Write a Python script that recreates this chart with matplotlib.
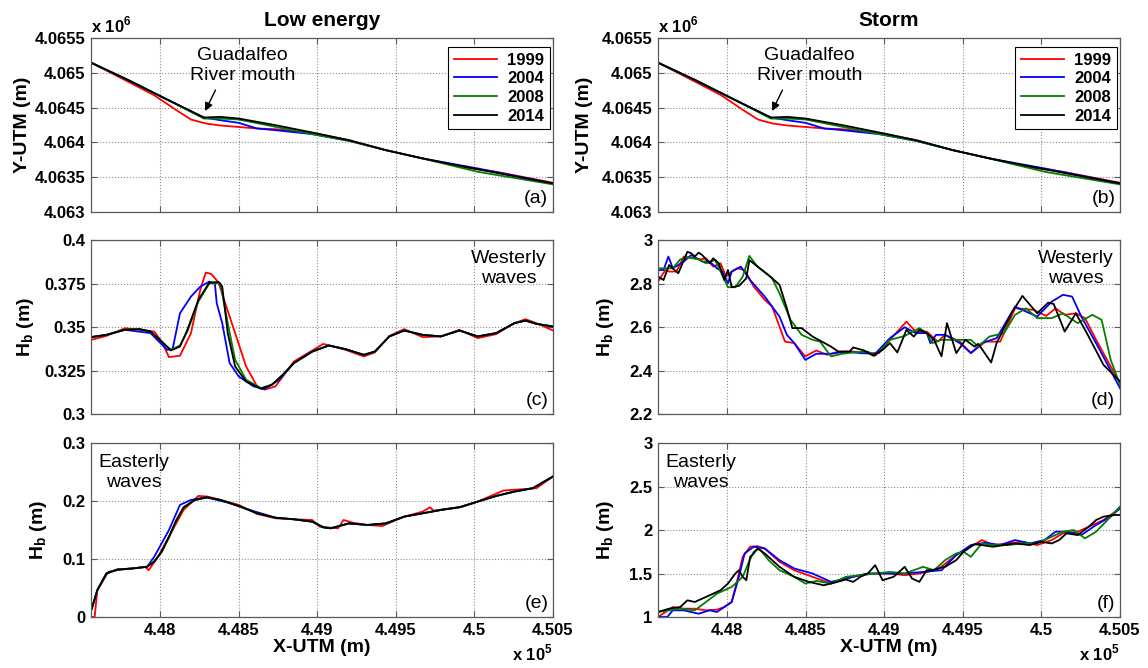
import matplotlib
matplotlib.use('Agg')
import matplotlib.pyplot as plt
from matplotlib.ticker import FuncFormatter

plt.rcParams['font.family'] = ['Liberation Sans', 'DejaVu Sans']
plt.rcParams['mathtext.fontset'] = 'custom'
plt.rcParams['mathtext.rm'] = 'Liberation Sans'
plt.rcParams['mathtext.bf'] = 'Liberation Sans:bold'

years = ['1999', '2004', '2008', '2014']
colors = ['#ff0000', '#0000ff', '#008000', '#000000']

# ---- shoreline position (a), (b) ----
shore_x_1999 = [447560, 447799, 447962, 448103, 448196, 448290, 448383, 448617, 448734,
                448968, 449202, 449436, 449670, 449904, 450138, 450500]
shore_y_1999 = [4065146, 4064869, 4064678, 4064463, 4064329, 4064272, 4064243, 4064200, 4064190,
                4064138, 4064032, 4063889, 4063770, 4063650, 4063578, 4063421]
shore_x_2004 = [447560, 447799, 448032, 448278, 448383, 448500, 448617, 448734, 448968, 449202,
                449436, 449670, 450021, 450500]
shore_y_2004 = [4065146, 4064893, 4064630, 4064358, 4064319, 4064281, 4064200, 4064176, 4064119,
                4064023, 4063889, 4063770, 4063626, 4063411]
shore_x_2008 = [447560, 447799, 448032, 448278, 448383, 448500, 448734, 448968, 449202, 449436,
                449670, 450021, 450500]
shore_y_2008 = [4065146, 4064893, 4064630, 4064343, 4064343, 4064329, 4064224, 4064119, 4064023,
                4063889, 4063770, 4063578, 4063397]
shore_x_2014 = [447560, 447799, 448032, 448278, 448383, 448500, 448734, 448968, 449202, 449436,
                449670, 449904, 450138, 450500]
shore_y_2014 = [4065146, 4064893, 4064630, 4064358, 4064367, 4064343, 4064248, 4064142, 4064032,
                4063889, 4063770, 4063665, 4063564, 4063411]

# ---- low energy, westerly waves (c) ----
lw_w_x_1999 = [447560, 447658, 447775, 447869, 447962, 448009, 448056, 448126, 448196, 448255,
               448290, 448325, 448372, 448407, 448477, 448547, 448617, 448664, 448734, 448851,
               448968, 449038, 449179, 449296, 449366, 449459, 449553, 449670, 449787, 449904,
               450021, 450138, 450254, 450325, 450395, 450500]
lw_w_h_1999 = [0.3426, 0.3449, 0.3493, 0.3484, 0.3474, 0.3417, 0.3327, 0.3335, 0.3465, 0.3713,
               0.3813, 0.3805, 0.3755, 0.3656, 0.3465, 0.3273, 0.3159, 0.3140, 0.3159, 0.3302,
               0.3365, 0.3403, 0.3369, 0.3331, 0.3354, 0.3449, 0.3488, 0.3442, 0.3446, 0.3484,
               0.3436, 0.3459, 0.3522, 0.3545, 0.3522, 0.3480]
lw_w_x_2004 = [447560, 447658, 447775, 447939, 448044, 448079, 448126, 448196, 448255, 448313,
               448348, 448360, 448395, 448442, 448500, 448594, 448664, 448758, 448851, 448968,
               449073, 449179, 449296, 449366, 449459, 449553, 449670, 449787, 449904, 450021,
               450138, 450254, 450325, 450395, 450500]
lw_w_h_2004 = [0.3442, 0.3455, 0.3484, 0.3465, 0.3369, 0.3373, 0.3579, 0.3675, 0.3732, 0.3761,
               0.3751, 0.3637, 0.3522, 0.3293, 0.3216, 0.3159, 0.3143, 0.3197, 0.3293, 0.3359,
               0.3394, 0.3373, 0.3340, 0.3359, 0.3446, 0.3480, 0.3455, 0.3446, 0.3480, 0.3446,
               0.3465, 0.3522, 0.3537, 0.3518, 0.3503]
lw_w_x_2008 = [447560, 447658, 447775, 447869, 447939, 448009, 448068, 448126, 448173, 448243,
               448313, 448383, 448430, 448477, 448547, 448641, 448711, 448781, 448851, 448968,
               449073, 449179, 449296, 449366, 449459, 449553, 449670, 449787, 449904, 450021,
               450138, 450254, 450325, 450395, 450500]
lw_w_h_2008 = [0.3442, 0.3455, 0.3484, 0.3488, 0.3474, 0.3417, 0.3369, 0.3394, 0.3474, 0.3646,
               0.3751, 0.3751, 0.3522, 0.3312, 0.3197, 0.3149, 0.3168, 0.3226, 0.3293, 0.3359,
               0.3394, 0.3373, 0.3340, 0.3359, 0.3446, 0.3480, 0.3455, 0.3446, 0.3480, 0.3446,
               0.3465, 0.3522, 0.3537, 0.3518, 0.3503]
lw_w_x_2014 = [447560, 447658, 447775, 447869, 447939, 448009, 448068, 448126, 448173, 448243,
               448313, 448372, 448395, 448430, 448477, 448547, 448641, 448711, 448781, 448851,
               448968, 449073, 449179, 449296, 449366, 449459, 449553, 449670, 449787, 449904,
               450021, 450138, 450254, 450325, 450395, 450500]
lw_w_h_2014 = [0.3442, 0.3455, 0.3484, 0.3488, 0.3474, 0.3417, 0.3365, 0.3388, 0.3484, 0.3656,
               0.3755, 0.3759, 0.3732, 0.3465, 0.3273, 0.3187, 0.3145, 0.3168, 0.3226, 0.3293,
               0.3359, 0.3394, 0.3373, 0.3340, 0.3359, 0.3446, 0.3480, 0.3455, 0.3446, 0.3480,
               0.3446, 0.3465, 0.3522, 0.3537, 0.3518, 0.3503]

# ---- low energy, easterly waves (e) ----
lw_e_x_1999 = [447560, 447583, 447600, 447670, 447728, 447822, 447904, 447927, 447986, 448021,
               448079, 448149, 448243, 448301, 448383, 448500, 448617, 448734, 448851, 448968,
               449015, 449132, 449167, 449225, 449319, 449413, 449553, 449670, 449717, 449740,
               449927, 450021, 450184, 450395, 450500]
lw_e_h_1999 = [0.0, 0.0, 0.0462, 0.0779, 0.0808, 0.0837, 0.0865, 0.0808, 0.1038, 0.1212,
               0.1500, 0.1846, 0.2088, 0.2077, 0.2019, 0.1933, 0.1777, 0.1702, 0.1685, 0.1673,
               0.1558, 0.1529, 0.1673, 0.1627, 0.1587, 0.1569, 0.1731, 0.1817, 0.1892, 0.1835,
               0.1904, 0.1990, 0.2181, 0.2221, 0.2423]
lw_e_x_2004 = [447565, 447600, 447658, 447728, 447822, 447916, 447962, 448009, 448056, 448126,
               448196, 448290, 448430, 448570, 448734, 448851, 448968, 449038, 449085, 449202,
               449319, 449436, 449553, 449670, 449787, 449904, 450021, 450138, 450254, 450371,
               450500]
lw_e_h_2004 = [0.0144, 0.0462, 0.0750, 0.0819, 0.0837, 0.0865, 0.1038, 0.1269, 0.1500, 0.1933,
               0.2019, 0.2065, 0.1973, 0.1846, 0.1713, 0.1685, 0.1644, 0.1546, 0.1529, 0.1615,
               0.1587, 0.1615, 0.1731, 0.1788, 0.1846, 0.1892, 0.1990, 0.2088, 0.2163, 0.2221,
               0.2423]
lw_e_x_2008 = [447565, 447600, 447658, 447728, 447822, 447916, 447962, 448009, 448056, 448103,
               448149, 448220, 448301, 448383, 448500, 448617, 448734, 448851, 448968, 449038,
               449085, 449202, 449319, 449436, 449553, 449670, 449787, 449904, 450021, 450138,
               450254, 450371, 450500]
lw_e_h_2008 = [0.0150, 0.0470, 0.0755, 0.0822, 0.0837, 0.0870, 0.0960, 0.1115, 0.1370, 0.1660,
               0.1885, 0.2015, 0.2060, 0.2019, 0.1920, 0.1790, 0.1710, 0.1685, 0.1644, 0.1550,
               0.1532, 0.1612, 0.1587, 0.1612, 0.1731, 0.1790, 0.1846, 0.1892, 0.1990, 0.2085,
               0.2160, 0.2221, 0.2420]
lw_e_x_2014 = [447565, 447600, 447658, 447728, 447822, 447916, 447962, 448009, 448056, 448103,
               448149, 448220, 448301, 448383, 448500, 448617, 448734, 448851, 448968, 449038,
               449085, 449202, 449319, 449436, 449553, 449670, 449787, 449904, 450021, 450138,
               450254, 450371, 450500]
lw_e_h_2014 = [0.0144, 0.0462, 0.0750, 0.0819, 0.0837, 0.0865, 0.0952, 0.1125, 0.1385, 0.1673,
               0.1892, 0.2019, 0.2065, 0.2019, 0.1915, 0.1788, 0.1713, 0.1685, 0.1644, 0.1546,
               0.1529, 0.1615, 0.1587, 0.1615, 0.1731, 0.1788, 0.1846, 0.1892, 0.1990, 0.2088,
               0.2163, 0.2221, 0.2423]

# ---- storm, westerly waves (d) ----
st_w_x_1999 = [447560, 447607, 447630, 447677, 447724, 447794, 447829, 447865, 447911, 447958,
               447993, 448029, 448064, 448111, 448169, 448239, 448286, 448333, 448368, 448427,
               448497, 448567, 448638, 448708, 448802, 448895, 448966, 449036, 449083, 449141,
               449200, 449270, 449340, 449387, 449481, 449551, 449645, 449738, 449832, 449949,
               450031, 450090, 450148, 450219, 450277, 450348, 450441, 450500]
st_w_h_1999 = [2.809, 2.862, 2.855, 2.855, 2.924, 2.916, 2.911, 2.916, 2.878, 2.893,
               2.832, 2.855, 2.870, 2.862, 2.786, 2.725, 2.694, 2.602, 2.533, 2.526,
               2.465, 2.492, 2.472, 2.487, 2.487, 2.480, 2.480, 2.541, 2.579, 2.625,
               2.579, 2.579, 2.533, 2.564, 2.533, 2.480, 2.533, 2.533, 2.686, 2.679,
               2.651, 2.686, 2.656, 2.663, 2.641, 2.541, 2.419, 2.342]
st_w_x_2004 = [447560, 447595, 447626, 447654, 447724, 447771, 447841, 447888, 447935, 447970,
               448005, 448029, 448087, 448146, 448239, 448333, 448380, 448427, 448497, 448567,
               448661, 448755, 448848, 448942, 449036, 449130, 449200, 449270, 449293, 449329,
               449387, 449481, 449551, 449621, 449715, 449832, 449973, 450066, 450137, 450195,
               450254, 450371, 450500]
st_w_h_2004 = [2.862, 2.862, 2.924, 2.870, 2.901, 2.931, 2.901, 2.901, 2.870, 2.855,
               2.801, 2.855, 2.878, 2.816, 2.740, 2.648, 2.564, 2.526, 2.449, 2.477,
               2.477, 2.487, 2.480, 2.477, 2.549, 2.599, 2.572, 2.572, 2.526, 2.564,
               2.564, 2.526, 2.480, 2.526, 2.549, 2.694, 2.648, 2.717, 2.748, 2.740,
               2.648, 2.495, 2.319]
st_w_x_2008 = [447560, 447595, 447654, 447701, 447747, 447818, 447865, 447923, 448005, 448052,
               448099, 448141, 448193, 448286, 448333, 448403, 448474, 448544, 448591, 448661,
               448731, 448802, 448895, 448942, 449036, 449130, 449223, 449270, 449305, 449364,
               449411, 449481, 449551, 449598, 449668, 449762, 449832, 449902, 449973, 450066,
               450137, 450231, 450324, 450383, 450441, 450500]
st_w_h_2008 = [2.870, 2.870, 2.870, 2.911, 2.920, 2.911, 2.893, 2.908, 2.783, 2.783,
               2.832, 2.927, 2.878, 2.824, 2.755, 2.633, 2.564, 2.541, 2.533, 2.465,
               2.477, 2.483, 2.487, 2.468, 2.541, 2.559, 2.595, 2.572, 2.526, 2.541,
               2.541, 2.541, 2.541, 2.510, 2.556, 2.572, 2.656, 2.686, 2.641, 2.641,
               2.663, 2.618, 2.656, 2.633, 2.449, 2.335]
st_w_x_2014 = [447560, 447595, 447630, 447689, 447747, 447771, 447794, 447818, 447841, 447888,
               447911, 447947, 447982, 448005, 448029, 448075, 448122, 448141, 448193, 448263,
               448333, 448380, 448415, 448474, 448544, 448661, 448708, 448778, 448802, 448872,
               448930, 448989, 449036, 449083, 449141, 449188, 449223, 449270, 449317, 449364,
               449399, 449458, 449516, 449574, 449598, 449680, 449715, 449809, 449879, 449973,
               450043, 450078, 450148, 450219, 450289, 450395, 450500]
st_w_h_2014 = [2.832, 2.816, 2.885, 2.847, 2.946, 2.939, 2.924, 2.942, 2.931, 2.893,
               2.916, 2.893, 2.816, 2.862, 2.783, 2.789, 2.824, 2.908, 2.878, 2.839,
               2.794, 2.686, 2.595, 2.595, 2.556, 2.510, 2.487, 2.487, 2.506, 2.492,
               2.468, 2.495, 2.526, 2.483, 2.587, 2.556, 2.587, 2.572, 2.541, 2.465,
               2.618, 2.480, 2.541, 2.510, 2.523, 2.437, 2.526, 2.663, 2.743, 2.663,
               2.712, 2.706, 2.579, 2.663, 2.572, 2.426, 2.350]

# ---- storm, easterly waves (f) ----
st_e_x_1999 = [447560, 447607, 447654, 447724, 447794, 447865, 447935, 447982, 448029, 448064,
               448099, 448146, 448193, 448239, 448333, 448427, 448544, 448661, 448802, 448895,
               449036, 449130, 449223, 449340, 449458, 449551, 449621, 449692, 449785, 449879,
               449973, 450066, 450137, 450231, 450301, 450395, 450500]
st_e_h_1999 = [1.0, 1.058, 1.115, 1.096, 1.096, 1.077, 1.085, 1.115, 1.173, 1.423,
               1.692, 1.808, 1.815, 1.788, 1.635, 1.538, 1.462, 1.385, 1.462, 1.5,
               1.5, 1.481, 1.5, 1.546, 1.712, 1.808, 1.885, 1.827, 1.846, 1.865,
               1.827, 1.885, 1.962, 1.981, 2.038, 2.115, 2.250]
st_e_x_2004 = [447560, 447619, 447654, 447724, 447818, 447888, 447935, 447982, 448029, 448075,
               448111, 448169, 448239, 448333, 448427, 448544, 448661, 448802, 448895, 449036,
               449130, 449247, 449364, 449458, 449551, 449645, 449738, 449832, 449926, 450020,
               450090, 450160, 450254, 450348, 450441, 450500]
st_e_h_2004 = [1.0, 1.0, 1.077, 1.077, 1.038, 1.077, 1.058, 1.115, 1.173, 1.462,
               1.731, 1.808, 1.788, 1.654, 1.558, 1.5, 1.404, 1.462, 1.5, 1.5,
               1.5, 1.519, 1.538, 1.712, 1.827, 1.854, 1.827, 1.885, 1.846, 1.885,
               1.981, 1.981, 1.942, 2.058, 2.154, 2.250]
st_e_x_2008 = [447560, 447630, 447701, 447794, 447865, 447935, 447982, 448029, 448099, 448134,
               448169, 448204, 448263, 448333, 448427, 448497, 448567, 448661, 448755, 448848,
               448942, 449036, 449130, 449247, 449317, 449387, 449458, 449504, 449551, 449621,
               449692, 449785, 449879, 449973, 450066, 450137, 450207, 450277, 450348, 450441,
               450500]
st_e_h_2008 = [1.058, 1.077, 1.096, 1.077, 1.173, 1.269, 1.308, 1.346, 1.462, 1.615,
               1.75, 1.788, 1.654, 1.538, 1.462, 1.385, 1.415, 1.385, 1.462, 1.481,
               1.5, 1.519, 1.5, 1.577, 1.538, 1.654, 1.731, 1.75, 1.692, 1.846,
               1.827, 1.827, 1.846, 1.846, 1.923, 1.981, 2.0, 1.904, 1.981, 2.154,
               2.269]
st_e_x_2014 = [447560, 447630, 447701, 447747, 447794, 447865, 447911, 447958, 448005, 448052,
               448075, 448099, 448122, 448146, 448169, 448193, 448239, 448333, 448427, 448520,
               448614, 448661, 448755, 448802, 448848, 448895, 448942, 448989, 449059, 449130,
               449177, 449223, 449270, 449305, 449340, 449387, 449458, 449504, 449574, 449621,
               449692, 449762, 449832, 449926, 449996, 450066, 450113, 450160, 450231, 450301,
               450348, 450395, 450465, 450500]
st_e_h_2014 = [1.058, 1.096, 1.115, 1.192, 1.173, 1.231, 1.269, 1.308, 1.385, 1.5,
               1.538, 1.462, 1.423, 1.692, 1.731, 1.788, 1.731, 1.577, 1.462, 1.404,
               1.365, 1.385, 1.431, 1.404, 1.462, 1.5, 1.596, 1.423, 1.462, 1.577,
               1.442, 1.404, 1.538, 1.538, 1.558, 1.577, 1.654, 1.75, 1.838, 1.827,
               1.808, 1.827, 1.846, 1.827, 1.865, 1.846, 1.885, 1.962, 1.942, 2.038,
               2.115, 2.154, 2.173, 2.173]

x_lim = (447560, 450500)
x_ticks = [448000, 448500, 449000, 449500, 450000, 450500]
mouth_xy = (448278, 4064415)
mouth_tail = (448360, 4064788)
mouth_text_xy = (448524, 4065108)

shore = [(shore_x_1999, shore_y_1999), (shore_x_2004, shore_y_2004),
         (shore_x_2008, shore_y_2008), (shore_x_2014, shore_y_2014)]
lw_w = [(lw_w_x_1999, lw_w_h_1999), (lw_w_x_2004, lw_w_h_2004),
        (lw_w_x_2008, lw_w_h_2008), (lw_w_x_2014, lw_w_h_2014)]
lw_e = [(lw_e_x_1999, lw_e_h_1999), (lw_e_x_2004, lw_e_h_2004),
        (lw_e_x_2008, lw_e_h_2008), (lw_e_x_2014, lw_e_h_2014)]
st_w = [(st_w_x_1999, st_w_h_1999), (st_w_x_2004, st_w_h_2004),
        (st_w_x_2008, st_w_h_2008), (st_w_x_2014, st_w_h_2014)]
st_e = [(st_e_x_1999, st_e_h_1999), (st_e_x_2004, st_e_h_2004),
        (st_e_x_2008, st_e_h_2008), (st_e_x_2014, st_e_h_2014)]

fig = plt.figure(figsize=(11.48, 6.68), dpi=100)
lefts = [0.0793, 0.5732]
bottoms = [0.6826, 0.3802, 0.0763]
w, h = 0.4024, 0.2605

hb_label = r'H$_\mathbf{b}$ (m)'
spine_col = '0.35'


def setup(ax, ylim, yticks, yfmt, bottom_row):
    ax.set_xlim(*x_lim)
    ax.set_ylim(*ylim)
    ax.set_xticks(x_ticks)
    ax.set_yticks(yticks)
    ax.yaxis.set_major_formatter(FuncFormatter(yfmt))
    if bottom_row:
        ax.xaxis.set_major_formatter(FuncFormatter(lambda v, p: '%g' % (v / 1e5)))
    else:
        ax.set_xticklabels([])
    ax.grid(True, linestyle=':', color='0.55', linewidth=0.8)
    ax.tick_params(direction='in', top=True, right=True, length=4, width=0.8,
                   labelsize=12, pad=4, color=spine_col)
    for lab in ax.get_xticklabels() + ax.get_yticklabels():
        lab.set_fontweight('bold')
    for s in ax.spines.values():
        s.set_linewidth(0.9)
        s.set_color(spine_col)


def draw(ax, series):
    for (xs, ys), c in zip(series, colors):
        ax.plot(xs, ys, color=c, linewidth=1.3)


for col in range(2):
    ax_a = fig.add_axes([lefts[col], bottoms[0], w, h])
    ax_m = fig.add_axes([lefts[col], bottoms[1], w, h])
    ax_b = fig.add_axes([lefts[col], bottoms[2], w, h])

    # shoreline
    for (xs, ys), c, yr in zip(shore, colors, years):
        ax_a.plot(xs, ys, color=c, linewidth=1.3, label=yr)
    setup(ax_a, (4063000, 4065500), [4063000 + 500 * i for i in range(6)],
          lambda v, p: '%g' % (v / 1e6), False)
    ax_a.set_ylabel('Y-UTM (m)', fontsize=14, fontweight='bold')
    ax_a.yaxis.set_label_coords(-0.13 if col == 0 else -0.14, 0.5)
    ax_a.text(0.0, 1.015, r'x 10$^\mathbf{6}$', transform=ax_a.transAxes, fontsize=12,
              fontweight='bold', ha='left', va='bottom')
    ax_a.set_title('Low energy' if col == 0 else 'Storm', fontsize=15,
                   fontweight='bold', pad=9)
    ax_a.annotate('', xy=mouth_xy, xytext=mouth_tail,
                  arrowprops=dict(arrowstyle='-|>', color='k', lw=1.0,
                                  mutation_scale=12))
    ax_a.text(mouth_text_xy[0], mouth_text_xy[1], 'Guadalfeo\nRiver mouth', fontsize=14,
              ha='center', va='center', linespacing=1.25)
    ax_a.text(0.99, 0.08, '(a)' if col == 0 else '(b)', transform=ax_a.transAxes,
              fontsize=14, ha='right', va='center')
    leg = ax_a.legend(loc='upper right', bbox_to_anchor=(0.9935, 0.95), borderaxespad=0,
                      prop={'size': 12, 'weight': 'bold'}, frameon=True, fancybox=False,
                      edgecolor='k', framealpha=1, handlelength=2.6, labelspacing=0.22,
                      borderpad=0.35, handletextpad=0.6)
    leg.get_frame().set_linewidth(0.8)

    # westerly
    if col == 0:
        draw(ax_m, lw_w)
        setup(ax_m, (0.3, 0.4), [0.3, 0.325, 0.35, 0.375, 0.4],
              lambda v, p: '%g' % round(v, 4), False)
        ax_m.yaxis.set_label_coords(-0.12, 0.5)
    else:
        draw(ax_m, st_w)
        setup(ax_m, (2.2, 3.0), [2.2, 2.4, 2.6, 2.8, 3.0],
              lambda v, p: '%g' % round(v, 4), False)
        ax_m.yaxis.set_label_coords(-0.09, 0.5)
    ax_m.set_ylabel(hb_label, fontsize=14, fontweight='bold')
    ax_m.text(0.905, 0.836, 'Westerly\nwaves', transform=ax_m.transAxes, fontsize=14,
              ha='center', va='center', multialignment='center', linespacing=1.25)
    ax_m.text(0.99, 0.08, '(c)' if col == 0 else '(d)', transform=ax_m.transAxes,
              fontsize=14, ha='right', va='center')

    # easterly
    if col == 0:
        draw(ax_b, lw_e)
        setup(ax_b, (0.0, 0.3), [0.0, 0.1, 0.2, 0.3],
              lambda v, p: '%g' % round(v, 4), True)
    else:
        draw(ax_b, st_e)
        setup(ax_b, (1.0, 3.0), [1.0, 1.5, 2.0, 2.5, 3.0],
              lambda v, p: '%g' % round(v, 4), True)
    ax_b.yaxis.set_label_coords(-0.09, 0.5)
    ax_b.set_ylabel(hb_label, fontsize=14, fontweight='bold')
    ax_b.set_xlabel('X-UTM (m)', fontsize=14, fontweight='bold', labelpad=1)
    ax_b.text(0.093, 0.83, 'Easterly\nwaves', transform=ax_b.transAxes, fontsize=14,
              ha='center', va='center', multialignment='center', linespacing=1.25)
    ax_b.text(0.99, 0.08, '(e)' if col == 0 else '(f)', transform=ax_b.transAxes,
              fontsize=14, ha='right', va='center')
    ax_b.text(1.0, -0.21, r'x 10$^\mathbf{5}$', transform=ax_b.transAxes, fontsize=12,
              fontweight='bold', ha='right', va='center')

fig.savefig('out.png', dpi=100)
